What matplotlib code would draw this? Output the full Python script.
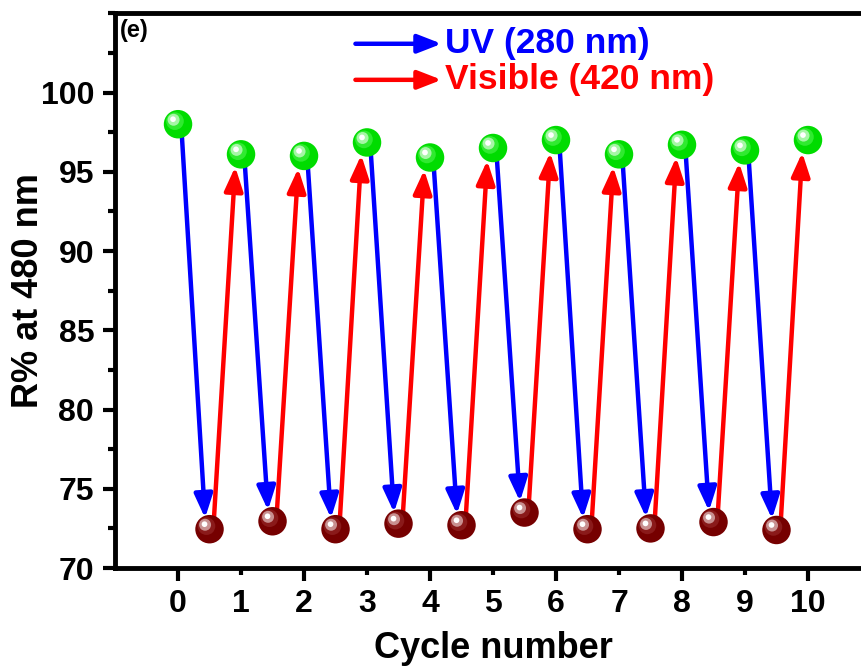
import numpy as np
import matplotlib
matplotlib.use('Agg')
import matplotlib.pyplot as plt
import matplotlib.transforms as mtransforms
from matplotlib.ticker import MultipleLocator

plt.rcParams['font.family'] = ['Liberation Sans', 'DejaVu Sans']
plt.rcParams['font.weight'] = 'bold'

# R% at 480 nm after each half-cycle
cycle_uv = np.arange(0, 11)                 # after visible light (green, high)
r_high = [98.0, 96.1, 96.0, 96.85, 95.9, 96.5, 97.0, 96.1, 96.7, 96.35, 97.0]
cycle_vis = np.arange(0, 10) + 0.5          # after UV light (brown, low)
r_low = [72.45, 72.95, 72.45, 72.8, 72.7, 73.5, 72.45, 72.5, 72.9, 72.4]

yticks = [70, 75, 80, 85, 90, 95, 100]
xticks = list(range(0, 11))

fig = plt.figure(figsize=(8.61, 6.66), dpi=100)
ax = fig.add_axes([0.1336, 0.1471, 0.878, 0.833])

# arrows: UV bleaching (blue) and visible recovery (red)
arrow_kw = dict(arrowstyle='-|>,head_length=0.9,head_width=0.35', lw=3.2,
                mutation_scale=16)
for i in range(len(r_low)):
    ax.annotate('', xy=(cycle_vis[i] - 0.06, r_low[i]),
                xytext=(cycle_uv[i] + 0.05, r_high[i]),
                arrowprops=dict(color='#0000ff', shrinkA=9, shrinkB=8, **arrow_kw),
                zorder=2)
    ax.annotate('', xy=(cycle_uv[i + 1] - 0.08, r_high[i + 1]),
                xytext=(cycle_vis[i] + 0.06, r_low[i]),
                arrowprops=dict(color='#ff0000', shrinkA=9, shrinkB=9, **arrow_kw),
                zorder=2)


def spheres(x, y, colors, size=20.5):
    # shaded ball: base disc plus lighter discs shifted up-left
    ax.scatter(x, y, s=size ** 2, color=colors[0], edgecolors='none', zorder=4)
    for k, (frac, shift) in enumerate([(0.62, 2.2), (0.42, 3.2), (0.2, 3.6)]):
        off = mtransforms.offset_copy(ax.transData, fig=fig, x=-shift, y=shift,
                                      units='points')
        ax.scatter(x, y, s=(size * frac) ** 2, color=colors[k + 1],
                   edgecolors='none', zorder=5 + k, transform=off)


spheres(cycle_uv, r_high, ['#00dc00', '#30ea30', '#a6f6a6', '#ffffff'])
spheres(cycle_vis, r_low, ['#760000', '#8a1a1a', '#c89090', '#ffffff'])

ax.set_xlim(-1, 11)
ax.set_ylim(70, 105)
ax.set_xticks(xticks)
ax.set_yticks(yticks)
ax.yaxis.set_minor_locator(MultipleLocator(2.5))

ax.tick_params(axis='both', which='major', direction='out', length=9, width=3,
               labelsize=23, pad=6)
ax.tick_params(axis='both', which='minor', direction='out', length=5, width=3)
ax.tick_params(top=False, right=False, which='both')

# odd cycles get short ticks, even ones long
for t, tick in zip(xticks, ax.xaxis.get_major_ticks()):
    if t % 2:
        tick.tick1line.set_markersize(5)

for lab in ax.get_xticklabels() + ax.get_yticklabels():
    lab.set_fontweight('bold')
for sp in ax.spines.values():
    sp.set_linewidth(3.5)

ax.set_xlabel('Cycle number', fontsize=26, fontweight='bold', labelpad=9)
ax.set_ylabel('R% at 480 nm', fontsize=26, fontweight='bold', labelpad=-4)

ax.text(0.007, 0.99, '(e)', transform=ax.transAxes, fontsize=17,
        fontweight='bold', va='top', ha='left')

# legend drawn as arrows with coloured labels
for yy, col, label in [(0.945, '#0000ff', 'UV (280 nm)'),
                       (0.88, '#ff0000', 'Visible (420 nm)')]:
    ax.annotate('', xy=(0.432, yy), xytext=(0.318, yy), xycoords='axes fraction',
                arrowprops=dict(color=col, shrinkA=0, shrinkB=0, **arrow_kw))
    ax.text(0.436, yy, label, transform=ax.transAxes, color=col, fontsize=25.5,
            fontweight='bold', va='center', ha='left')

fig.savefig('out.png', dpi=100)
